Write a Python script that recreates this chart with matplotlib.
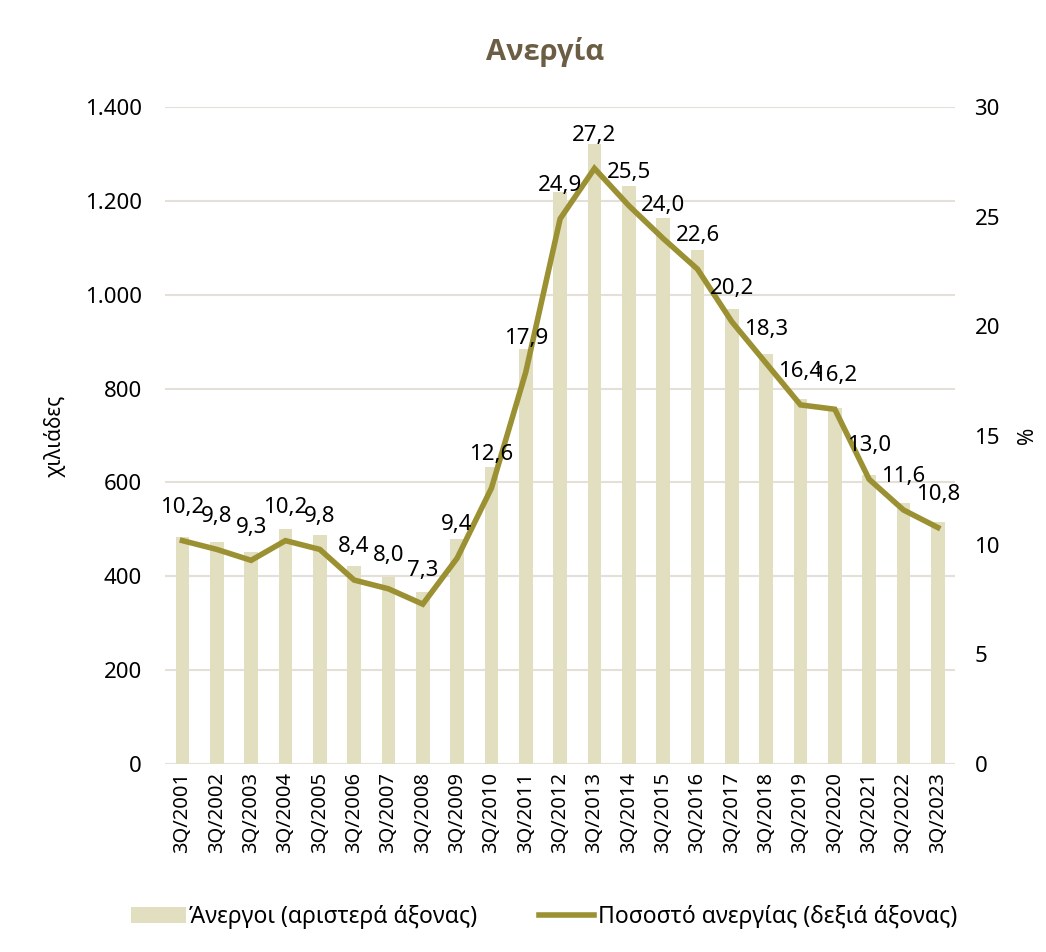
import numpy as np
import matplotlib.pyplot as plt
from matplotlib.ticker import FuncFormatter

plt.rcParams['font.family'] = ['Noto Sans', 'DejaVu Sans']

# Δεδομένα
periodoi = ["3Q/2001", "3Q/2002", "3Q/2003", "3Q/2004", "3Q/2005", "3Q/2006",
            "3Q/2007", "3Q/2008", "3Q/2009", "3Q/2010", "3Q/2011", "3Q/2012",
            "3Q/2013", "3Q/2014", "3Q/2015", "3Q/2016", "3Q/2017", "3Q/2018",
            "3Q/2019", "3Q/2020", "3Q/2021", "3Q/2022", "3Q/2023"]
anergoi = [484, 473, 452, 501, 488, 422, 398, 366, 479, 633, 885, 1220,
           1321, 1231, 1163, 1095, 970, 874, 778, 759, 616, 557, 516]
pososto = [10.2, 9.8, 9.3, 10.2, 9.8, 8.4, 8.0, 7.3, 9.4, 12.6, 17.9, 24.9,
           27.2, 25.5, 24.0, 22.6, 20.2, 18.3, 16.4, 16.2, 13.0, 11.6, 10.8]

xrwma_bar = "#E2DEC0"
xrwma_line = "#9B9133"

fig = plt.figure(figsize=(10.46, 9.52), dpi=100)
ax = fig.add_axes([0.158, 0.1975, 0.755, 0.69])
x = np.arange(len(periodoi))

b = ax.bar(x, anergoi, width=0.4, color=xrwma_bar, zorder=2,
           label="Άνεργοι (αριστερά άξονας)")
ax.set_xlim(-0.5, len(periodoi) - 0.5)
ax.set_ylim(0, 1400)
ax.set_yticks(np.arange(0, 1401, 200))
ax.yaxis.set_major_formatter(FuncFormatter(lambda v, p: f"{int(v):,}".replace(",", ".")))
ax.grid(axis='y', color="#E4E0D8", linewidth=1.5, zorder=0)
ax.set_xticks(x)
ax.set_xticklabels(periodoi, rotation=90, fontsize=14.5)
ax.tick_params(axis='y', labelsize=16, length=0, pad=17)
ax.tick_params(axis='x', length=0, pad=6)
for s in ax.spines.values():
    s.set_visible(False)
ax.set_ylabel("χιλιάδες", fontsize=15, labelpad=14)

ax2 = ax.twinx()
l, = ax2.plot(x, pososto, color=xrwma_line, linewidth=4, zorder=3,
              solid_joinstyle='miter', label="Ποσοστό ανεργίας (δεξιά άξονας)")
ax2.set_ylim(0, 30)
ax2.set_yticks(np.arange(0, 31, 5))
ax2.tick_params(axis='y', labelsize=16, length=0, pad=14)
for s in ax2.spines.values():
    s.set_visible(False)
ax2.set_ylabel("%", fontsize=15, labelpad=12)

for xi, v in zip(x, pososto):
    ax2.annotate(f"{v:.1f}".replace(".", ","), (xi, v), xytext=(0, 24),
                 textcoords='offset points', ha='center', va='center', fontsize=16)

fig.text(0.521, 0.945, "Ανεργία", ha='center', va='center', fontsize=21,
         fontweight='bold', color="#6B5E45", family=['Open Sans', 'DejaVu Sans'])

fig.legend([b, l], [b.get_label(), l.get_label()], loc='center', bbox_to_anchor=(0.52, 0.037),
           ncol=2, frameon=False, fontsize=16.5, handlelength=2.4, handletextpad=0.15,
           columnspacing=2.7)

fig.savefig("out.png", dpi=100)
